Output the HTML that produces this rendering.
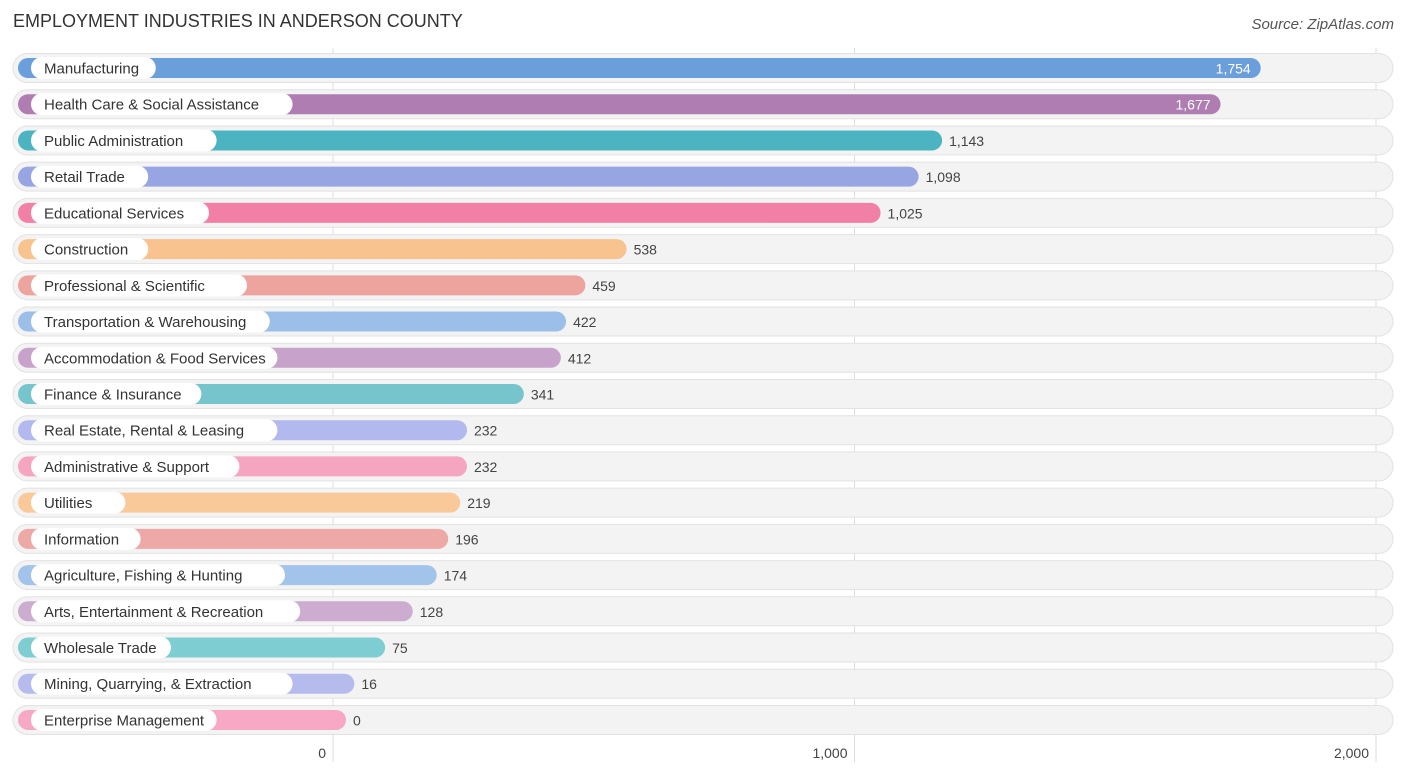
<!DOCTYPE html>
<html><head><meta charset="utf-8"><style>
body{margin:0;background:#fff;font-family:"Liberation Sans",sans-serif}
#wrap{position:relative;width:1406px;height:776px}
.t{position:absolute;top:11px;left:13px;font-size:18px;color:#333}
.s{position:absolute;top:16px;right:12px;font-size:15px;color:#555;font-style:italic}
</style></head><body>
<div id="wrap">
<div class="t">EMPLOYMENT INDUSTRIES IN ANDERSON COUNTY</div>
<div class="s">Source: ZipAtlas.com</div>
<svg id="svg" width="1406" height="776" style="position:absolute;left:0;top:0"></svg>
</div>
<script>
const categories=["Manufacturing","Health Care & Social Assistance","Public Administration","Retail Trade","Educational Services","Construction","Professional & Scientific","Transportation & Warehousing","Accommodation & Food Services","Finance & Insurance","Real Estate, Rental & Leasing","Administrative & Support","Utilities","Information","Agriculture, Fishing & Hunting","Arts, Entertainment & Recreation","Wholesale Trade","Mining, Quarrying, & Extraction","Enterprise Management"];
const values=[1754,1677,1143,1098,1025,538,459,422,412,341,232,232,219,196,174,128,75,16,0];
const colors=["#6a9fdc","#b07db3","#4cb3c0","#97a6e3","#f27fa5","#f9c38f","#eea49e","#9bbfe8","#c7a3cb","#76c4cc","#b1b9ee","#f5a5c0","#f9c99a","#eea9a7","#a2c3ea","#ccadd0","#7dcdd3","#b5bced","#f7a8c4"];
const ticks=[0,1000,2000];
const tickLabels=["0","1,000","2,000"];
const svg=document.getElementById('svg');const NS="http://www.w3.org/2000/svg";
const x=v=>333+v*0.5215;
const y=i=>68+i*36.22;
function mk(t,a){const e=document.createElementNS(NS,t);for(const k in a)e.setAttribute(k,a[k]);svg.appendChild(e);return e;}
ticks.forEach((t,i)=>{
 const l=mk('line',{x1:x(t),x2:x(t),y1:48,y2:762,stroke:'#ddd','stroke-width':1});
 
 
});
categories.forEach((c,i)=>{
 const cy=y(i);
 const bg=mk('rect',{x:13,y:cy-14.5,width:1380,height:29,rx:14.5,fill:'#f3f3f3',stroke:'#e2e2e2'});
 
 
 const end=x(values[i])+13;
 const b=mk('rect',{x:18,y:cy-10,width:end-18,height:20,rx:10,fill:colors[i]});
 
 
 const tw=c.length*7.6+26;
 const p=mk('rect',{x:31,y:cy-11,width:tw,height:22,rx:11,fill:'#fff'});
 
 
 const tx=mk('text',{x:44,y:cy+5.5,'font-size':15,fill:'#333','font-family':'Liberation Sans, sans-serif'});
 tx.textContent=c;
 
 
 const inside=values[i]>1500;
 const vt=mk('text',{x:inside?end-10:end+7,y:cy+5.5,'font-size':14,fill:inside?'#fff':'#444','text-anchor':inside?'end':'start','font-family':'Liberation Sans, sans-serif'});
 vt.textContent=values[i].toLocaleString('en-US');
 
 
});
ticks.forEach((t,i)=>{
 const tl=mk('text',{x:x(t)-7,y:758,'font-size':14,fill:'#444','text-anchor':'end','font-family':'Liberation Sans, sans-serif'});
 tl.textContent=tickLabels[i];
 
 
});
</script>
</body></html>
